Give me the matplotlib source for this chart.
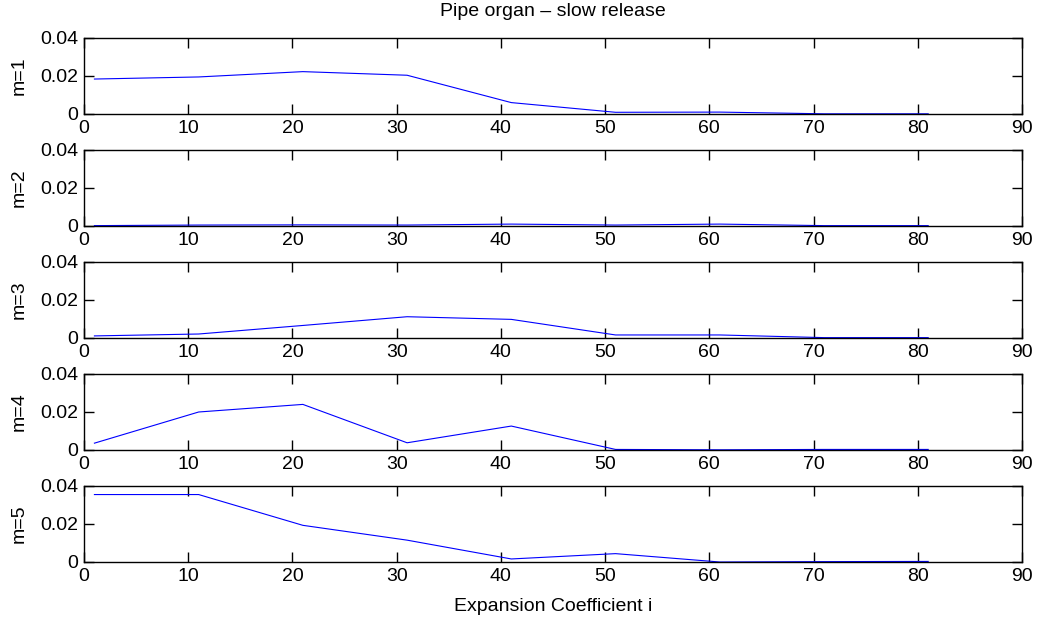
import matplotlib
matplotlib.use("Agg")
import matplotlib.pyplot as plt
from matplotlib.ticker import FuncFormatter

plt.rcParams['font.family'] = ['Liberation Sans', 'DejaVu Sans']

x = [1, 11, 21, 31, 41, 51, 61, 71, 81]
m1 = [0.0184, 0.0195, 0.0223, 0.0204, 0.0060, 0.0009, 0.0010, 0.0001, 0.0001]
m2 = [0.0002, 0.0005, 0.0006, 0.0005, 0.0010, 0.0005, 0.0010, 0.0002, 0.0002]
m3 = [0.0011, 0.0021, 0.0066, 0.0112, 0.0098, 0.0016, 0.0016, 0.0002, 0.0002]
m4 = [0.0036, 0.0200, 0.0240, 0.0038, 0.0126, 0.0003, 0.0001, 0.0003, 0.0003]
m5 = [0.0355, 0.0355, 0.0193, 0.0115, 0.0016, 0.0044, 0.0000, 0.0002, 0.0003]
series = [m1, m2, m3, m4, m5]
labels = ["m=1", "m=2", "m=3", "m=4", "m=5"]
xticks = [0, 10, 20, 30, 40, 50, 60, 70, 80, 90]
yticks = [0, 0.02, 0.04]
title = "Pipe organ \u2013 slow release"
xlabel = "Expansion Coefficient i"

W, H = 1050, 622
fig = plt.figure(figsize=(W / 100, H / 100), dpi=100)
left, right = 84, 1022
tops = [38, 150, 262, 374, 486]
h = 76
fs = 14

def fmt(v, pos):
    if abs(v) < 1e-12:
        return "0"
    return f"{v:.2f}"

for i, (s, lab) in enumerate(zip(series, labels)):
    ax = fig.add_axes([left / W, 1 - (tops[i] + h) / H, (right - left) / W, h / H])
    ax.plot(x, s, color=(0, 0, 1), lw=0.8)
    ax.set_xlim(0, 90)
    ax.set_ylim(0, 0.04)
    ax.set_xticks(xticks)
    ax.set_yticks(yticks)
    ax.yaxis.set_major_formatter(FuncFormatter(fmt))
    ax.tick_params(axis='both', which='major', direction='in',
                   bottom=True, top=True, left=True, right=True,
                   labelsize=fs, length=7, width=1.0, pad=4, color='black')
    for sp in ax.spines.values():
        sp.set_linewidth(1.0)
    ax.set_ylabel(lab, fontsize=fs, labelpad=9)
    if i == 0:
        ax.set_title(title, fontsize=fs, pad=16)
    if i == 4:
        ax.set_xlabel(xlabel, fontsize=fs, labelpad=10)

fig.savefig("out.png", dpi=100)
